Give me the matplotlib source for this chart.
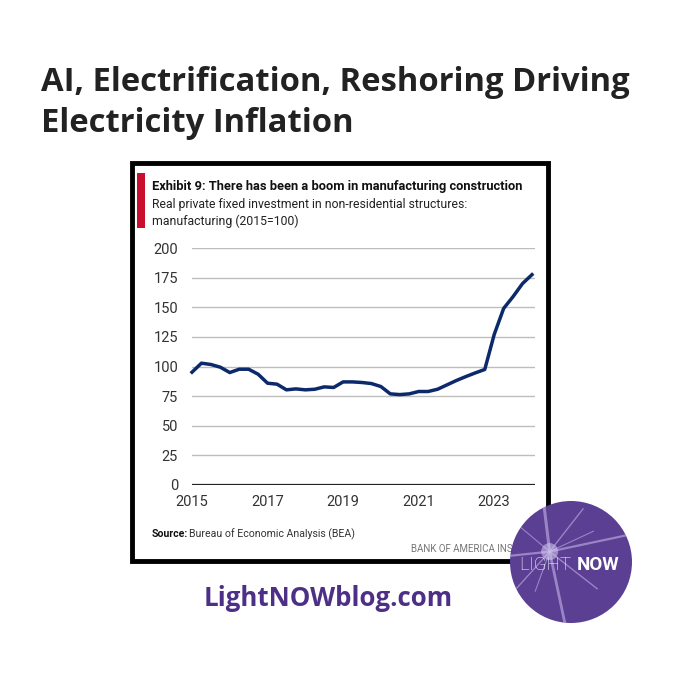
import matplotlib
matplotlib.use("Agg")
import matplotlib.pyplot as plt
from matplotlib.patches import Rectangle, Circle
import numpy as np
import pandas as pd

# ── data (quarterly, 2015=100) ──────────────────────────────────────────────
quarters = pd.period_range("2015Q1", "2024Q1", freq="Q")
index_values = [
    95.2, 102.8, 101.7, 99.4,     # 2015
    94.9, 97.7, 97.7, 93.5,       # 2016
    85.9, 85.1, 80.3, 81.1,       # 2017
    80.3, 80.8, 82.8, 82.3,       # 2018
    87.0, 87.0, 86.5, 85.6,       # 2019
    83.1, 76.9, 76.3, 76.9,       # 2020
    78.9, 78.9, 80.8, 84.5,       # 2021
    88.2, 91.5, 94.6, 97.5,       # 2022
    127.0, 149.0, 159.0, 170.0,   # 2023
    177.5,                        # 2024
]
y_ticks = [0, 25, 50, 75, 100, 125, 150, 175, 200]
x_ticks = [2015, 2017, 2019, 2021, 2023]

W = 680.0
CHART_FONT = ["Roboto", "DejaVu Sans"]
PAGE_FONT = ["Open Sans", "DejaVu Sans"]
PURPLE = "#5a3f93"
NAVY = "#0c2a6b"


def fx(px):
    return px / W


def fy(py):
    return 1 - py / W


fig = plt.figure(figsize=(6.8, 6.8), dpi=100)
fig.patch.set_facecolor("white")

# ── page title ──────────────────────────────────────────────────────────────
for py, line in [(91, "AI, Electrification, Reshoring Driving"),
                 (132, "Electricity Inflation")]:
    fig.text(fx(41), fy(py), line, ha="left", va="baseline", fontsize=23.6,
             fontweight="bold", family=PAGE_FONT, color="#222222")

# ── framed exhibit ──────────────────────────────────────────────────────────
fig.add_artist(Rectangle((fx(132), fy(561)), fx(416), 398 / W,
                         transform=fig.transFigure, facecolor="white",
                         edgecolor="black", linewidth=3.5, zorder=0))
fig.add_artist(Rectangle((fx(137), fy(228)), fx(8), 55 / W,
                         transform=fig.transFigure, facecolor="#c8102e",
                         edgecolor="none", zorder=1))
fig.text(fx(152), fy(190), "Exhibit 9: There has been a boom in manufacturing construction",
         ha="left", va="baseline", fontsize=9.3, fontweight="bold",
         family=CHART_FONT, color="#111111")
fig.text(fx(152), fy(208), "Real private fixed investment in non-residential structures:",
         ha="left", va="baseline", fontsize=8.8, family=CHART_FONT, color="#222222")
fig.text(fx(152), fy(225), "manufacturing (2015=100)",
         ha="left", va="baseline", fontsize=8.8, family=CHART_FONT, color="#222222")

ax = fig.add_axes([fx(192), fy(485), (535 - 192) / W, (485 - 248) / W])
x = [q.year + (q.quarter - 1) / 4 for q in quarters]
ax.plot(x, index_values, color=NAVY, linewidth=2.5, solid_joinstyle="round",
        zorder=3, clip_on=False)
ax.set_xlim(2015, 2024.08)
ax.set_ylim(0, 200)
ax.set_yticks(y_ticks)
ax.set_xticks(x_ticks)
ax.set_xticklabels([str(t) for t in x_ticks])
ax.yaxis.grid(True, color="#bdbdbd", linewidth=1.0)
ax.set_axisbelow(True)
ax.axhline(0, color="#222222", linewidth=1.6, zorder=2)
for s in ax.spines.values():
    s.set_visible(False)
ax.tick_params(axis="both", length=0, labelsize=10.5, labelcolor="#333333")
ax.tick_params(axis="y", pad=10)
ax.tick_params(axis="x", pad=7)
for lab in ax.get_xticklabels() + ax.get_yticklabels():
    lab.set_family(CHART_FONT)
ax.patch.set_alpha(0)

fig.text(fx(152), fy(537), "Source:", ha="left", va="baseline",
         fontsize=7.6, fontweight="bold", family=CHART_FONT, color="#111111")
fig.text(fx(189), fy(537), "Bureau of Economic Analysis (BEA)", ha="left",
         va="baseline", fontsize=7.6, family=CHART_FONT, color="#333333")
fig.text(fx(411), fy(552), "BANK OF AMERICA INSTITUTE", ha="left", va="baseline",
         fontsize=7, family=CHART_FONT, color="#777777")

# ── blog url ────────────────────────────────────────────────────────────────
fig.text(fx(204), fy(598), "LightNOWblog.com", ha="left", va="center",
         fontsize=18.6, fontweight="bold", family=PAGE_FONT, color="#4e2f86")

# ── LightNOW badge (drawn over the exhibit frame) ───────────────────────────
lax = fig.add_axes([fx(510), fy(623), 122 / W, 122 / W])
lax.set_zorder(10)
lax.set_xlim(-1, 1)
lax.set_ylim(-1, 1)
lax.axis("off")
disc = Circle((0, 0), 1, facecolor=PURPLE, edgecolor="none", zorder=1)
lax.add_patch(disc)
cx, cy = -0.35, 0.17
for ang, length, lw in [(97, 1.2, 2.2), (282, 1.4, 2.0), (12, 1.5, 1.6),
                        (186, 1.0, 1.6), (52, 0.9, 1.0), (228, 0.9, 1.0),
                        (322, 1.0, 1.0), (140, 0.7, 0.8), (25, 0.8, 0.8),
                        (250, 0.7, 0.8)]:
    a = np.deg2rad(ang)
    ln, = lax.plot([cx, cx + length * np.cos(a)], [cy, cy + length * np.sin(a)],
                   color="#c4b3e8", linewidth=lw, alpha=0.6, zorder=2,
                   solid_capstyle="butt")
    ln.set_clip_path(disc)
lax.add_patch(Circle((cx, cy), 0.14, facecolor="#d6c9f2", alpha=0.55,
                     edgecolor="none", zorder=2))
lax.text(-0.85, -0.05, "LIGHT", ha="left", va="center", fontsize=13.5,
         fontweight="light", family=["Roboto", "DejaVu Sans"], color="white",
         zorder=4)
lax.text(0.1, -0.05, "NOW", ha="left", va="center", fontsize=13.5,
         fontweight="bold", family=["Roboto", "DejaVu Sans"], color="white",
         zorder=4)

fig.savefig("out.png", dpi=100, facecolor="white")
